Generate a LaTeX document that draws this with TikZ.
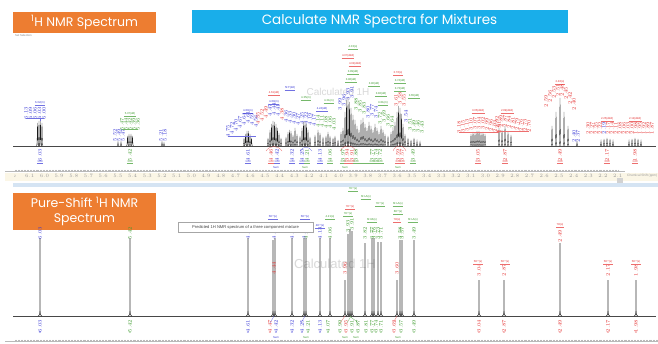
\documentclass[tikz,border=0pt]{standalone}
\usepackage{fontspec}
\setmainfont{Liberation Sans}
\newfontfamily\titlefont{Poppins}
\definecolor{orng}{HTML}{ED7D31}
\definecolor{skyb}{HTML}{19AEEA}
\definecolor{lblue}{HTML}{3434D6}
\definecolor{lred}{HTML}{E53030}
\definecolor{lgreen}{HTML}{3A9A2A}
\definecolor{spec}{HTML}{1A1A1A}
\definecolor{spk}{HTML}{333333}
\definecolor{wm}{HTML}{D9D9D9}
\definecolor{band}{HTML}{FBF6E6}
\definecolor{sepb}{HTML}{D5E4F3}
\newcounter{nn}
\tikzset{
  vlab/.style={rotate=90,font=\fontsize{2.6}{3}\selectfont,inner sep=0pt},
  hdr/.style={font=\fontsize{2.8}{3}\selectfont,inner sep=0.3pt},
  axl/.style={font=\fontsize{3.2}{3.5}\selectfont,text=gray!80,inner sep=0pt},
  titlebox/.style={fill=#1,text=white,inner sep=0pt,font=\titlefont},
}
% rotated shift label, text computed from x
\newcommand\vl[3]{\pgfmathsetmacro\pp{6.2-(#1-15)/147}\stepcounter{nn}%
  \node[vlab,text=#3] (v\arabic{nn}) at (#1,#2) {\pgfmathprintnumber[fixed,fixed zerofill,precision=2]{\pp}};}
% header label with underline
\newcommand\hd[4]{\stepcounter{nn}%
  \node[hdr,text=#3] (h\arabic{nn}) at (#1,#2) {#4};
  \draw[#3!70,line width=.12pt] (h\arabic{nn}.south west) -- (h\arabic{nn}.south east);}
% multiplet line (x, top, base)
\newcommand\pk[3]{\draw[spec,line width=.33pt] ({#1-0.9},#3) .. controls ({#1-0.25},#3) and ({#1-0.08},#2) .. (#1,#2) .. controls ({#1+0.08},#2) and ({#1+0.25},#3) .. ({#1+0.9},#3);}
% pure shift spike (x, top)
\newcommand\spk[2]{\draw[spk,line width=.6pt] ({#1-1.8},316) .. controls ({#1-0.5},316) and ({#1-0.1},314) .. (#1,311) -- (#1,#2);
  \draw[spk,line width=.6pt] (#1,311) .. controls ({#1+0.1},314) and ({#1+0.5},316) .. ({#1+1.8},316);}
\begin{document}
\begin{tikzpicture}[x=1pt,y=-1pt]
\useasboundingbox (0,0) rectangle (658,343);
\fill[white] (0,0) rectangle (658,343);

% ---------- titles ----------
\node[titlebox=orng,minimum width=143pt,minimum height=21pt,font=\titlefont\fontsize{12.5}{14}\selectfont] (t1) at (84.5,22.5) {\textsuperscript{1}H NMR Spectrum};
\node[font=\fontsize{2.8}{3}\selectfont,text=gray,anchor=west,inner sep=0pt] (t1s) at (15,35) {Set Selection};
\node[titlebox=skyb,minimum width=376pt,minimum height=23pt,font=\titlefont\fontsize{13.5}{15}\selectfont] (t2) at (379.5,21.5) {Calculate NMR Spectra for Mixtures};
\node[titlebox=orng,minimum width=143pt,minimum height=37pt,align=center,font=\titlefont\fontsize{12.5}{14.5}\selectfont] (t3) at (84.5,211.5) {Pure-Shift \textsuperscript{1}H NMR\\Spectrum};

% ---------- watermarks ----------
\node[text=wm,font=\fontsize{10}{12}\selectfont] (wm1) at (338,92) {Calculated 1H};
\node[text=wm,font=\fontsize{13}{15}\selectfont] (wm2) at (335,264) {Calculated 1H};

% ---------- top spectrum ----------
\draw[spec!80,line width=.3pt] (13,146) -- (656,146);
\foreach \x/\t in {37.5/123,39/121,40.5/121,42/123} {\pk{\x}{\t}{146}}
\foreach \x/\t in {118/142,121/142,162/142,164/143} {\pk{\x}{\t}{146}}
\foreach \x/\t in {127.5/136,129/134,131/134,132.5/136} {\pk{\x}{\t}{146}}
\foreach \x/\t in {244/138,245.5/134,247/131,248.5/131,250/134,251.5/138} {\pk{\x}{\t}{146}}
\foreach \x/\t in {268/138,270/130,271.5/124,273/121,274.5/122,276/124,277.5/128,279/133,281/138} {\pk{\x}{\t}{146}}
\foreach \x/\t in {286/137,288/132,289.5/130,291/131,293/135,295/128,297/134} {\pk{\x}{\t}{146}}
\foreach \x/\t in {300/136,302/128,303.5/122,305/121,306.5/124,308/130,310/137} {\pk{\x}{\t}{146}}
\foreach \x/\t in {315/135,318/130,320/133,323/137,326/136,328/132,330/136} {\pk{\x}{\t}{146}}
\foreach \x/\t in {333/138,335/136,338/140,341/132,343/128,345/112,346.5/100,348/97,349.5/102,351/108,353/115,355/120,357/126,359/130,361/120,363/118,365/124,367/128,369/122,371/126,373/130,375/124,377/128,379/132,381/126,383/130,385/134,388/136,391/132,393/128,395/122,397/112,398.5/106,400/108,401.5/114,403/124,405/134,408/138,411/140,414/138,417/141,420/142} {\pk{\x}{\t}{146}}
\foreach \x/\t in {471/134,473/132,475/133,477/131,479/131,481/133,483/132,485/134} {\pk{\x}{\t}{146}}
\foreach \x/\t in {499/128,502/130,505/126,508/132,511/135} {\pk{\x}{\t}{146}}
\foreach \x/\t in {552/126,556/112,560/98,564/112,568/126,577/142} {\pk{\x}{\t}{146}}
\foreach \x/\t in {601/141,604/139,607/138,610/139,613/141,629/141,632/139,635/138,638/139,641/141} {\pk{\x}{\t}{146}}

% integral curves
\draw[lred!80,line width=.25pt] (266,151) .. controls (270,145) and (278,145) .. (282,151);
\draw[lred!80,line width=.25pt] (340,151) .. controls (344,144) and (352,144) .. (356,151);
\draw[lred!80,line width=.25pt] (393,151) .. controls (396,144) and (403,144) .. (406,151);
\draw[lblue!80,line width=.25pt] (300,151) .. controls (303,146) and (309,146) .. (312,151);

% top labels above peaks
\hd{40}{103}{lblue}{6.02(m)}
\foreach \x in {26,30.5,35,39.5,44} {\vl{\x}{113}{lblue}}
\draw[lblue!70,line width=.12pt] (26,118.5) -- (44,118.5) (40,118.5) -- (40,121);
\foreach \x in {115,119,123} {\vl{\x}{135}{lblue}}
\hd{130}{114}{lgreen}{5.37(dd)}
\foreach \x in {122,126,130,134,138} {\vl{\x}{124}{lgreen}}
\draw[lgreen!70,line width=.12pt] (122,129.5) -- (138,129.5);
\foreach \x in {161,165} {\vl{\x}{135}{lblue}}
\hd{248}{111}{lblue}{4.80(m)}
\foreach \x/\y in {228/131,232/128,236/125,240/122,244/119,248/117,252/119,256/121} {\vl{\x}{\y}{lblue}}
\draw[lblue!70,line width=.12pt] (228,136) -- (256,136);
\hd{274}{93}{lred}{4.61(dd)}
\hd{274}{102}{lblue}{4.60(m)}
\foreach \x/\y in {258/118,262/115,266/112} {\vl{\x}{\y}{lred}}
\foreach \x/\y in {270/110,274/109,278/110} {\vl{\x}{\y}{lblue}}
\vl{282}{114}{lred}
\hd{290}{88}{lblue}{5H\textasciicircum(dd)}
\foreach \x/\y in {286/116,290/117,294/118,298/119} {\vl{\x}{\y}{lblue}}
\hd{306}{98}{lgreen}{4.35(m)}
\foreach \x/\y in {302/118,306/118,310/119,314/120} {\vl{\x}{\y}{lblue}}
\hd{329}{101}{lgreen}{4.21(m)}
\hd{322}{109}{lblue}{4.24(dd)}
\foreach \x/\y in {318/121,322/121,326/122,330/122,334/124} {\vl{\x}{\y}{lgreen}}
% dense region headers
\hd{353}{47}{lgreen}{4.03(s)}
\hd{348}{56}{lred}{4.07(ddd)}
\hd{355}{64}{lred}{4.02(ddd)}
\hd{353}{72}{lgreen}{3.99(dd)}
\hd{351}{80}{lgreen}{3.98(dd)}
\hd{374}{84}{lgreen}{3.90(dd)}
\hd{381}{94}{lgreen}{3.82(dd)}
\hd{383}{103}{lgreen}{3.81(m)}
\hd{398}{73}{lred}{3.76(s)}
\hd{400}{81}{lgreen}{3.74(dd)}
\hd{400}{89}{lgreen}{3.73(dd)}
\hd{414}{96}{lgreen}{3.65(dd)}
\foreach \x/\y in {340/104,344/100,348/94,352/92} {\vl{\x}{\y}{lblue}}
\foreach \x/\y in {356/104,360/106,364/108} {\vl{\x}{\y}{lgreen}}
\foreach \x/\y in {368/112,372/110,376/112} {\vl{\x}{\y}{lblue}}
\foreach \x/\y in {380/118,384/116,388/120,392/122} {\vl{\x}{\y}{lgreen}}
\foreach \x/\y in {396/100,400/98,404/100} {\vl{\x}{\y}{lred}}
\foreach \x/\y in {406/116} {\vl{\x}{\y}{lblue}}
\foreach \x/\y in {410/124,414/126,418/126,422/127} {\vl{\x}{\y}{lgreen}}
% right groups
\hd{478}{111}{lred}{3.05(ddd)}
\foreach \x/\y in {459/127,463/126,467/125,471/124,475/123,479/123,483/123,487/124,491/125,495/126,499/127} {\vl{\x}{\y}{lred}}
\draw[lred!70,line width=.12pt] (459,132) -- (499,132);
\hd{507}{111}{lred}{2.89(ddd)}
\foreach \x/\y in {497/122,501/121,505/121,509/122,513/123,517/124,521/125,525/125,529/126} {\vl{\x}{\y}{lred}}
\draw[lred!70,line width=.12pt] (497,131) -- (529,131);
\hd{560}{82}{lred}{2.48(s)}
\foreach \x/\y in {546/101,550/96,554/92,558/90,562/90,566/93,570/98,574/104} {\vl{\x}{\y}{lred}}
\foreach \x in {574,578} {\vl{\x}{136}{lblue}}
\hd{607}{119}{lred}{2.25(ddd)}
\foreach \x in {588,592,596,600,608,612,616,620} {\vl{\x}{128}{lred}}
\hd{635}{119}{lred}{2.12(ddd)}
\foreach \x in {624,628,632,636,640,644,648,652} {\vl{\x}{128}{lred}}
\vl{604}{128}{lblue}

% integration labels below top baseline
\foreach \x/\c in {40/lblue,130/lgreen,248/lblue,271/lred,277/lblue,292/lblue,302/lblue,307/lgreen,320/lblue,330/lgreen,343/lgreen,347/lred,352/lred,356/lgreen,372/lgreen,376/lgreen,380/lgreen,398/lred,402/lred,413/lgreen,478/lred,505/lred,560/lred,607/lred,635/lred} {
  \vl{\x}{155}{\c}
  \stepcounter{nn}\node[hdr,text=\c] (a\arabic{nn}) at (\x,162) {1.00};
  \draw[\c!70,line width=.12pt] (a\arabic{nn}.south west) -- (a\arabic{nn}.south east);
}
\foreach \x/\c in {276/lblue,305/lgreen,345/lgreen,398/lgreen} {\stepcounter{nn}\node[hdr,text=\c] (s\arabic{nn}) at (\x,167.5) {Sum};}
\draw[lgreen!70,line width=.12pt] (358,163.5) -- (384,163.5);

% top axis
\fill[band] (5,173) rectangle (658,180.5);
\draw[gray!55,line width=.3pt] (5,171) -- (625,171);
\foreach \i in {0,...,410} {\draw[gray!55,line width=.15pt] ({15+\i*1.47},169.8) -- ++(0,1.2);}
\node[axl] (ax0) at (15,176) {2};
\foreach \i in {1,...,41} {\pgfmathsetmacro\v{6.2-\i/10}\node[axl] at ({15+\i*14.7},176) {\pgfmathprintnumber[fixed,fixed zerofill,precision=1]{\v}};}
\node[axl,anchor=west] (axt) at (627,176) {Chemical Shift (ppm)};
\fill[gray!35] (617,178) rectangle (623,184);
\fill[sepb] (13,183) rectangle (658,187);

% ---------- bottom spectrum ----------
\draw[spec!80,line width=.3pt] (13,316) -- (656,316);
\foreach \x/\t in {40/238,130/238,248/238,273/240,275/238,292/238,304/238,306/238,320/238,330/238,345/280,348/234,350/229,352/231,365/243,372/238,374/238,378/242,381/242,397/280,400/240,402/240,414/240,479/280,504/280,560/243,608/280,636/280} {\spk{\x}{\t}}

% labels above peaks
\foreach \x/\c in {40/lblue,130/lgreen,248/lblue,292/lblue,304/lblue,306/lgreen,320/lblue,330/lgreen,365/lgreen,372/lgreen,374/lgreen,378/lgreen,381/lgreen,400/lgreen,402/lgreen,414/lgreen} {\vl{\x}{233}{\c}}
\vl{274}{233}{lblue}
\vl{348}{226}{lgreen}\vl{352}{224}{lgreen}
\foreach \x in {274,345,397} {\vl{\x}{268}{lred}}
\vl{560}{236}{lred}
\foreach \x in {479,504,608,636} {\vl{\x}{270}{lred}}
\hd{273}{217}{lblue}{5H\textasciicircum(s)}
\hd{305}{217}{lblue}{5H\textasciicircum(s)}
\hd{320}{226}{lblue}{4H\textasciicircum(s)}
\hd{330}{217}{lgreen}{4.21(s)}
\hd{353}{189}{lgreen}{7H\textasciicircum(s)}
\hd{366}{197}{lgreen}{6H-A(s)}
\hd{350}{207}{lred}{7H\textasciicircum(s)}
\hd{348}{214}{lgreen}{7H\textasciicircum(s)}
\hd{380}{204}{lgreen}{7H\textasciicircum(s)}
\hd{372}{220}{lgreen}{6H-B(s)}
\hd{398}{204}{lgreen}{6H-A(s)}
\hd{398}{212}{lgreen}{6H\textasciicircum(s)}
\hd{397}{220}{lred}{7H(s)}
\hd{413}{220}{lgreen}{6H-A(s)}
\hd{478}{262}{lred}{5H\textasciicircum(s)}
\hd{505}{262}{lred}{5H\textasciicircum(s)}
\hd{560}{225}{lred}{7H(s)}
\hd{608}{262}{lred}{5H\textasciicircum(s)}
\hd{636}{262}{lred}{5H\textasciicircum(s)}

% tooltip
\node[draw=gray!70,fill=white,line width=.3pt,font=\fontsize{4.1}{5}\selectfont,text=gray!50!black,minimum width=135pt,minimum height=10pt,inner sep=0pt] (tip) at (245.5,227) {Predicted 1H NMR spectrum of a three component mixture};

% bottom labels below baseline
\draw[lred!80,line width=.25pt] (345,316) .. controls (344,319) and (341,320) .. (340,323);
\draw[lgreen!80,line width=.25pt] (350,316) .. controls (352,319) and (356,320) .. (358,323);
\draw[lgreen!80,line width=.25pt] (351,316) .. controls (350,319) and (348,320) .. (347,323);
\draw[lred!80,line width=.25pt] (397,316) .. controls (396,319) and (394,320) .. (393,323);
\draw[lblue!80,line width=.25pt] (274,316) .. controls (273,319) and (271,320) .. (270,323);
\draw[lblue!80,line width=.25pt] (305,316) .. controls (304,319) and (302,320) .. (301,323);
\foreach \x/\c in {40/lblue,130/lgreen,248/lblue,270/lred,276/lblue,292/lblue,302/lblue,308/lgreen,320/lblue,328/lgreen,340/lgreen,346/lred,352/lgreen,358/lgreen,366/lgreen,372/lgreen,376/lgreen,381/lgreen,394/lred,401/lgreen,414/lgreen,479/lred,504/lred,560/lred,608/lred,636/lred} {
  \vl{\x}{326}{\c}
  \stepcounter{nn}\node[hdr,text=\c] (b\arabic{nn}) at (\x,332.5) {H};
}
\foreach \x/\c in {276/lblue,306/lgreen,345/lgreen,356/lgreen,398/lgreen} {\stepcounter{nn}\node[hdr,text=\c] (u\arabic{nn}) at (\x,338) {Sum};}

% bottom axis
\draw[gray!55,line width=.3pt] (5,341) -- (658,341);
\foreach \i in {0,...,440} {\draw[gray!55,line width=.15pt] ({15+\i*1.47},339.8) -- ++(0,1.2);}
\end{tikzpicture}
\end{document}
